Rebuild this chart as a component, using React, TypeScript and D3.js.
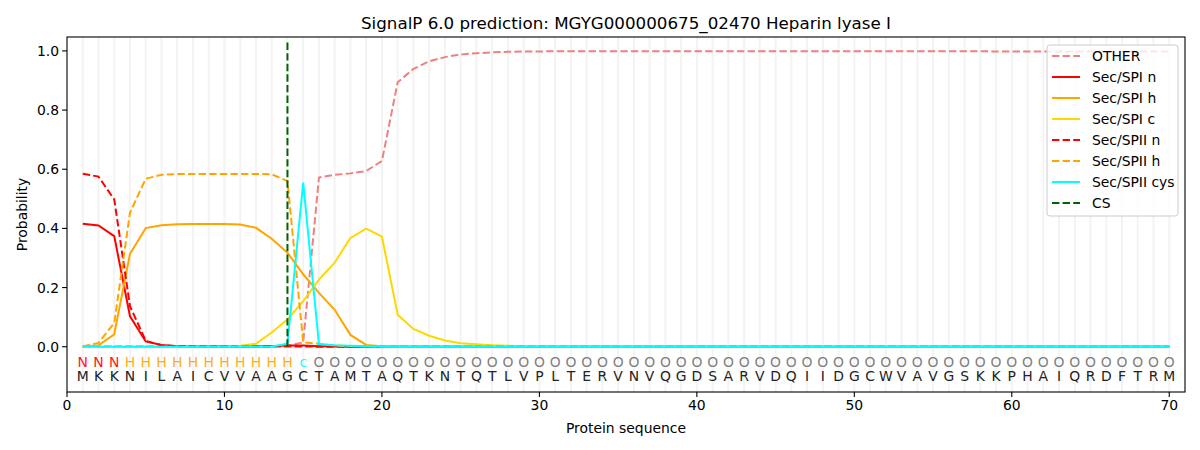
import * as d3 from 'd3';

const sequence = 'MKKNILAICVVAAGCTAMTAQTKNTQTLVPLTERVNVQGDSARVDQIIDGCWVAVGSKKPHAIQRDFTRM'.split('');
const regionLabels = 'NNNHHHHHHHHHHHcOOOOOOOOOOOOOOOOOOOOOOOOOOOOOOOOOOOOOOOOOOOOOOOOOOOOOOO'.split('');

const otherP = [
  0.002, 0.002, 0.002, 0.002, 0.002, 0.002, 0.002, 0.002, 0.002, 0.002,
  0.002, 0.002, 0.002, 0.003, 0.015, 0.572, 0.581, 0.586, 0.594, 0.628,
  0.894, 0.939, 0.965, 0.979, 0.988, 0.992, 0.995, 0.997, 0.998, 0.998,
  0.999, 0.999, 0.999, 0.999, 0.999, 0.999, 0.999, 0.999, 0.999, 0.999,
  0.999, 0.999, 0.999, 0.999, 0.999, 0.999, 0.999, 0.999, 0.999, 0.999,
  0.999, 0.999, 0.999, 0.999, 0.999, 0.999, 0.999, 0.999, 0.998, 0.998,
  0.998, 0.998, 0.998, 0.998, 0.998, 0.998, 0.998, 0.998, 0.998, 0.998,
];
const spiN = [
  0.416, 0.41, 0.374, 0.103, 0.018, 0.006, 0.002, 0.001, 0.001, 0.001,
  0.001, 0.001, 0.002, 0.004, 0.004, 0.002, 0.001, 0, 0, 0,
  0, 0, 0, 0, 0, 0, 0, 0, 0, 0,
  0, 0, 0, 0, 0, 0, 0, 0, 0, 0,
  0, 0, 0, 0, 0, 0, 0, 0, 0, 0,
  0, 0, 0, 0, 0, 0, 0, 0, 0, 0,
  0, 0, 0, 0, 0, 0, 0, 0, 0, 0,
];
const spiH = [
  0, 0.005, 0.042, 0.314, 0.401, 0.411, 0.414, 0.415, 0.415, 0.415,
  0.413, 0.402, 0.365, 0.318, 0.245, 0.182, 0.125, 0.04, 0.006, 0.002,
  0.001, 0, 0, 0, 0, 0, 0, 0, 0, 0,
  0, 0, 0, 0, 0, 0, 0, 0, 0, 0,
  0, 0, 0, 0, 0, 0, 0, 0, 0, 0,
  0, 0, 0, 0, 0, 0, 0, 0, 0, 0,
  0, 0, 0, 0, 0, 0, 0, 0, 0, 0,
];
const spiC = [
  0, 0, 0, 0, 0, 0, 0, 0, 0, 0.001,
  0.003, 0.01, 0.048, 0.092, 0.154, 0.227, 0.284, 0.368, 0.399, 0.372,
  0.108, 0.06, 0.037, 0.021, 0.012, 0.008, 0.005, 0.003, 0.002, 0.002,
  0.001, 0.001, 0.001, 0.001, 0.001, 0.001, 0.001, 0.001, 0.001, 0.001,
  0.001, 0.001, 0.001, 0.001, 0.001, 0.001, 0.001, 0.001, 0.001, 0.001,
  0.001, 0.001, 0.001, 0.001, 0.001, 0.001, 0.001, 0.001, 0.001, 0.001,
  0.001, 0.001, 0.001, 0.001, 0.001, 0.001, 0.001, 0.001, 0.001, 0.001,
];
const spiiN = [
  0.585, 0.575, 0.498, 0.137, 0.02, 0.005, 0.002, 0.001, 0.001, 0.001,
  0.001, 0.001, 0.001, 0.001, 0.001, 0, 0, 0, 0, 0,
  0, 0, 0, 0, 0, 0, 0, 0, 0, 0,
  0, 0, 0, 0, 0, 0, 0, 0, 0, 0,
  0, 0, 0, 0, 0, 0, 0, 0, 0, 0,
  0, 0, 0, 0, 0, 0, 0, 0, 0, 0,
  0, 0, 0, 0, 0, 0, 0, 0, 0, 0,
];
const spiiH = [
  0.001, 0.013, 0.08, 0.453, 0.568, 0.581, 0.584, 0.584, 0.584, 0.584,
  0.584, 0.584, 0.583, 0.56, 0.015, 0.01, 0.004, 0.002, 0.001, 0,
  0, 0, 0, 0, 0, 0, 0, 0, 0, 0,
  0, 0, 0, 0, 0, 0, 0, 0, 0, 0,
  0, 0, 0, 0, 0, 0, 0, 0, 0, 0,
  0, 0, 0, 0, 0, 0, 0, 0, 0, 0,
  0, 0, 0, 0, 0, 0, 0, 0, 0, 0,
];
const spiiCys = [
  0, 0, 0, 0, 0, 0, 0, 0, 0, 0,
  0, 0, 0.001, 0.01, 0.555, 0.009, 0.005, 0.003, 0.002, 0.001,
  0, 0, 0, 0, 0, 0, 0, 0, 0, 0,
  0, 0, 0, 0, 0, 0, 0, 0, 0, 0,
  0, 0, 0, 0, 0, 0, 0, 0, 0, 0,
  0, 0, 0, 0, 0, 0, 0, 0, 0, 0,
  0, 0, 0, 0, 0, 0, 0, 0, 0, 0,
];
const csPosition = 14;
const csTop = 1.035;

const xTicks = [0, 10, 20, 30, 40, 50, 60, 70];
const yTicks = [0, 0.2, 0.4, 0.6, 0.8, 1.0];

const series = [
  { name: 'OTHER', values: otherP, color: '#f08080', dashed: true },
  { name: 'Sec/SPI n', values: spiN, color: 'red', dashed: false },
  { name: 'Sec/SPI h', values: spiH, color: 'orange', dashed: false },
  { name: 'Sec/SPI c', values: spiC, color: 'gold', dashed: false },
  { name: 'Sec/SPII n', values: spiiN, color: 'red', dashed: true },
  { name: 'Sec/SPII h', values: spiiH, color: 'orange', dashed: true },
  { name: 'Sec/SPII cys', values: spiiCys, color: 'cyan', dashed: false },
];

const labelColor: Record<string, string> = { N: 'red', H: 'orange', c: 'cyan', O: 'gray' };

export default function App() {
  const width = 1200;
  const height = 450;
  const margin = { top: 37, right: 15, bottom: 58, left: 67 };
  const x = d3.scaleLinear().domain([0, 71]).range([margin.left, width - margin.right]);
  const y = d3.scaleLinear().domain([-0.153, 1.047]).range([height - margin.bottom, margin.top]);
  const font = 'DejaVu Sans, sans-serif';
  const dash = '7.4,3.2';

  const line = d3
    .line<number>()
    .x((_, i) => x(i + 1))
    .y((d) => y(d));

  const legendItems = [
    ...series.map((s) => ({ name: s.name, color: s.color, dashed: s.dashed })),
    { name: 'CS', color: 'darkgreen', dashed: true },
  ];
  const lx = 1047;
  const ly = 45;

  return (
    <div style={{ position: 'fixed', left: 0, top: 0 }}>
      <svg width={width} height={height} style={{ display: 'block', background: 'white' }} fontFamily={font}>
        {/* vertical residue grid */}
        {sequence.map((_, i) => (
          <line key={'g' + i} x1={x(i + 1)} x2={x(i + 1)} y1={y.range()[0]} y2={y.range()[1]} stroke="#f3f3f3" strokeWidth={2} />
        ))}

        {series.map((s) => (
          <path key={s.name} d={line(s.values) ?? ''} fill="none" stroke={s.color} strokeWidth={2}
            strokeDasharray={s.dashed ? dash : undefined} />
        ))}

        <line x1={x(csPosition)} x2={x(csPosition)} y1={y(0)} y2={y(csTop)} stroke="darkgreen" strokeWidth={2} strokeDasharray={dash} />

        {/* sequence annotation */}
        {regionLabels.map((c, i) => (
          <text key={'r' + i} x={x(i + 1)} y={y(-0.05)} textAnchor="middle" dominantBaseline="central" fontSize={13.9}
            fill={labelColor[c]} opacity={c === 'O' ? 1 : 0.9}>{c}</text>
        ))}
        {sequence.map((c, i) => (
          <text key={'s' + i} x={x(i + 1)} y={y(-0.1)} textAnchor="middle" dominantBaseline="central" fontSize={13.9} fill="#222">{c}</text>
        ))}

        {/* axes frame */}
        <rect x={margin.left} y={margin.top} width={width - margin.left - margin.right} height={height - margin.top - margin.bottom}
          fill="none" stroke="black" strokeWidth={1.1} />

        {xTicks.map((t) => (
          <g key={'x' + t}>
            <line x1={x(t)} x2={x(t)} y1={y.range()[0]} y2={y.range()[0] + 4.9} stroke="black" strokeWidth={1.1} />
            <text x={x(t)} y={y.range()[0] + 8} textAnchor="middle" dominantBaseline="hanging" fontSize={13.9}>{t}</text>
          </g>
        ))}
        {yTicks.map((t) => (
          <g key={'y' + t}>
            <line x1={margin.left - 4.9} x2={margin.left} y1={y(t)} y2={y(t)} stroke="black" strokeWidth={1.1} />
            <text x={margin.left - 8} y={y(t)} textAnchor="end" dominantBaseline="central" fontSize={13.9}>{d3.format('.1f')(t)}</text>
          </g>
        ))}

        <text x={(x.range()[0] + x.range()[1]) / 2} y={433} textAnchor="middle" fontSize={13.9}>Protein sequence</text>
        <text transform={`translate(27,${(y.range()[0] + y.range()[1]) / 2}) rotate(-90)`} textAnchor="middle" fontSize={13.9}>Probability</text>
        <text x={(x.range()[0] + x.range()[1]) / 2} y={29} textAnchor="middle" fontSize={16.7}>
          SignalP 6.0 prediction: MGYG000000675_02470 Heparin lyase I
        </text>

        {/* legend */}
        <rect x={lx} y={ly} width={131} height={171} rx={3} fill="white" fillOpacity={0.8} stroke="#cccccc" strokeWidth={1} />
        {legendItems.map((it, k) => (
          <g key={'l' + it.name} transform={`translate(${lx},${ly + 11 + k * 21})`}>
            <line x1={5} x2={33} y1={0} y2={0} stroke={it.color} strokeWidth={2} strokeDasharray={it.dashed ? dash : undefined} />
            <text x={45} y={0} dominantBaseline="central" fontSize={13.9}>{it.name}</text>
          </g>
        ))}
      </svg>
    </div>
  );
}
